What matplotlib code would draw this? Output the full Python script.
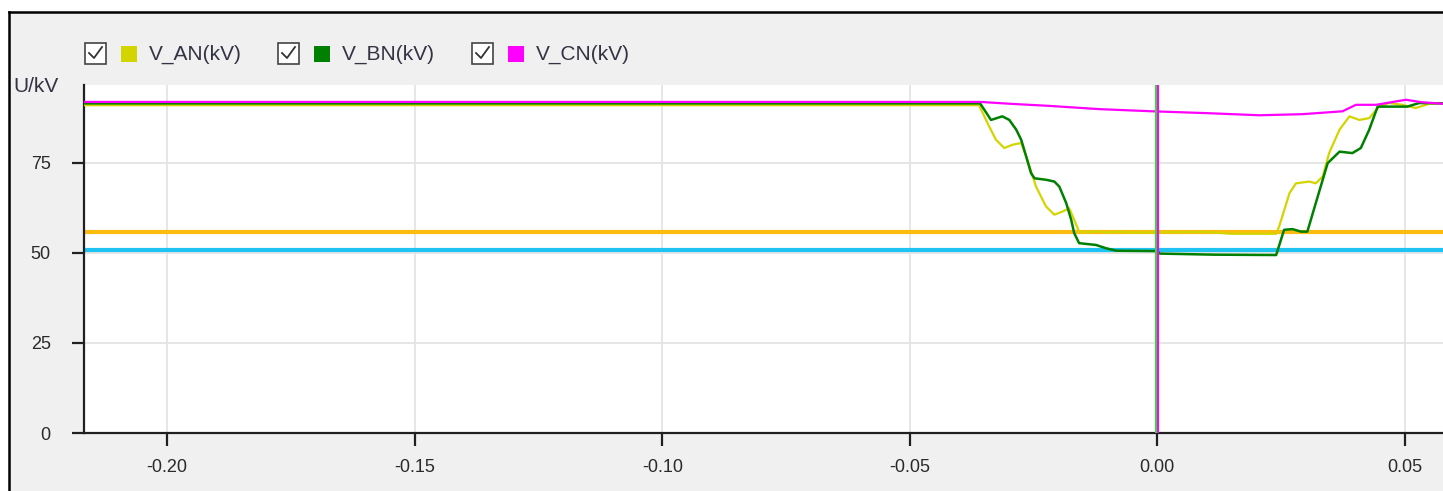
import matplotlib
matplotlib.use("Agg")
import matplotlib.pyplot as plt
from matplotlib.patches import Rectangle
from matplotlib.lines import Line2D
import matplotlib.transforms as mtransforms

# ---- data ----
series_names = ["V_AN(kV)", "V_BN(kV)", "V_CN(kV)"]
series_colors = ["#d4d400", "#008000", "#ff00ff"]

t_an = [-0.2168, -0.0360, -0.0343, -0.0326, -0.0309, -0.0293, -0.0275, -0.0265, -0.0245,
        -0.0225, -0.0208, -0.0191, -0.0178, -0.0168, -0.0158, -0.0140, -0.0120, -0.0100,
        -0.0080, -0.0050, 0.0, 0.0100, 0.0150, 0.0200, 0.0240, 0.0246, 0.0267, 0.0280,
        0.0307, 0.0320, 0.0334, 0.0347, 0.0368, 0.0388, 0.0408, 0.0428, 0.0448, 0.0468,
        0.0495, 0.0522, 0.0549, 0.0577]
v_an = [91.0, 91.0, 86.0, 81.4, 79.1, 80.0, 80.5, 76.8, 68.4,
        62.9, 60.6, 61.5, 62.4, 59.2, 55.9, 55.7, 56.0, 55.6,
        55.9, 55.6, 55.7, 55.8, 55.3, 55.3, 55.3, 57.3, 66.6, 69.3,
        69.8, 69.3, 71.2, 77.7, 84.2, 87.9, 86.9, 87.4, 90.6, 91.6,
        91.1, 90.2, 91.4, 91.5]

t_bn = [-0.2168, -0.0358, -0.0336, -0.0313, -0.0299, -0.0285, -0.0275, -0.0265, -0.0255,
        -0.0248, -0.0225, -0.0208, -0.0198, -0.0184, -0.0174, -0.0168, -0.0158, -0.0124,
        -0.0104, -0.0083, 0.0, 0.0005, 0.0115, 0.0240, 0.0256, 0.0273, 0.0290, 0.0303,
        0.0320, 0.0344, 0.0368, 0.0394, 0.0411, 0.0428, 0.0445, 0.0505, 0.0529, 0.0577]
v_bn = [91.5, 91.5, 86.9, 87.9, 86.9, 84.2, 81.4, 76.8, 72.1,
        70.7, 70.3, 69.8, 68.4, 63.8, 59.2, 55.5, 52.7, 52.2,
        51.3, 50.6, 50.5, 49.8, 49.5, 49.4, 56.4, 56.6, 55.9, 55.9,
        63.8, 74.9, 78.1, 77.7, 79.1, 84.2, 90.6, 90.6, 91.6, 91.5]

t_cn = [-0.2168, -0.0357, -0.0299, -0.0218, -0.0117, -0.0010, 0.0098, 0.0206, 0.0293,
        0.0374, 0.0401, 0.0442, 0.0502, 0.0535, 0.0577]
v_cn = [91.9, 91.9, 91.4, 90.8, 89.9, 89.3, 88.8, 88.2, 88.5,
        89.3, 91.1, 91.1, 92.5, 91.8, 91.4]

ref_levels = [55.8, 50.8]
ref_colors = ["#fbbb10", "#1ec3f2"]
cursor_t = 0.0

x_ticks = [-0.20, -0.15, -0.10, -0.05, 0.00, 0.05]
y_ticks = [0, 25, 50, 75]
x_lim = (-0.2168, 0.0577)
y_lim = (0, 96.6)

# ---- figure ----
W, H = 1443, 491
plt.rcParams['font.family'] = ['Liberation Sans', 'DejaVu Sans']
fig = plt.figure(figsize=(W / 100, H / 100), dpi=100, facecolor="white")


def px(x, y):
    return (x / W, 1 - y / H)


# gray panel with black frame on top/left
fig.patches.append(Rectangle(px(9, H), (W - 9) / W, (H - 12) / H, transform=fig.transFigure,
                             facecolor="#f0f0f0", edgecolor="none", zorder=-10))
fig.add_artist(Line2D([9 / W, 9 / W], [0, 1 - 12 / H], color="black", lw=1.8))
fig.add_artist(Line2D([9 / W, 1], [1 - 12 / H, 1 - 12 / H], color="black", lw=1.8))

ax = fig.add_axes([84 / W, 1 - 433 / H, (W - 84) / W, (433 - 85) / H])
ax.set_facecolor("white")

for lvl, c in zip(ref_levels, ref_colors):
    ax.axhline(lvl, color=c, lw=3, zorder=2)

ax.plot(t_an, v_an, color=series_colors[0], lw=1.6, zorder=3)
ax.plot(t_bn, v_bn, color=series_colors[1], lw=1.8, zorder=4)
ax.plot(t_cn, v_cn, color=series_colors[2], lw=1.6, zorder=5)

# cursor: green + magenta side by side
xax = ax.get_xaxis_transform()
off_l = mtransforms.ScaledTranslation(-1 / 100, 0, fig.dpi_scale_trans)
off_r = mtransforms.ScaledTranslation(1 / 100, 0, fig.dpi_scale_trans)
ax.plot([cursor_t, cursor_t], [0, 1], color="#33dd33", lw=1.5, zorder=6, transform=xax + off_l)
ax.plot([cursor_t, cursor_t], [0, 1], color="#ff00ff", lw=1.5, zorder=6, transform=xax + off_r)

ax.set_xlim(*x_lim)
ax.set_ylim(*y_lim)
ax.set_xticks(x_ticks)
ax.set_xticklabels([f"{v:.2f}" for v in x_ticks])
ax.set_yticks(y_ticks)
ax.set_yticklabels([str(v) for v in y_ticks])
ax.grid(True, color="#e4e4e4", lw=1.3, zorder=0)
ax.set_axisbelow(True)

for s in ["top", "right"]:
    ax.spines[s].set_visible(False)
for s in ["left", "bottom"]:
    ax.spines[s].set_linewidth(1.6)
    ax.spines[s].set_color("#202020")
ax.tick_params(axis="both", direction="out", length=9, width=1.6, color="#202020",
               labelsize=13, labelcolor="#2a2a2a")
ax.tick_params(axis="y", pad=15)
ax.tick_params(axis="x", pad=10)

fig.text(*px(13, 77), "U/kV", fontsize=15, color="#333344", ha="left", va="top")

# legend with checkboxes
legend_x = [85, 278, 472]
for i, (name, c) in enumerate(zip(series_names, series_colors)):
    x0 = legend_x[i]
    fig.patches.append(Rectangle(px(x0, 64), 21 / W, 21 / H, transform=fig.transFigure,
                                 facecolor="white", edgecolor="#444444", lw=1.2))
    cx = [x0 + 4, x0 + 9, x0 + 17]
    cy = [53, 58, 47]
    fig.add_artist(Line2D([a / W for a in cx], [1 - b / H for b in cy], color="#333333", lw=1.3))
    fig.patches.append(Rectangle(px(x0 + 36, 62), 16 / W, 16 / H, transform=fig.transFigure,
                                 facecolor=c, edgecolor="none"))
    fig.text(*px(x0 + 64, 54), name, fontsize=15, color="#333344", ha="left", va="center")

fig.savefig("out.png", dpi=100, facecolor=fig.get_facecolor())
